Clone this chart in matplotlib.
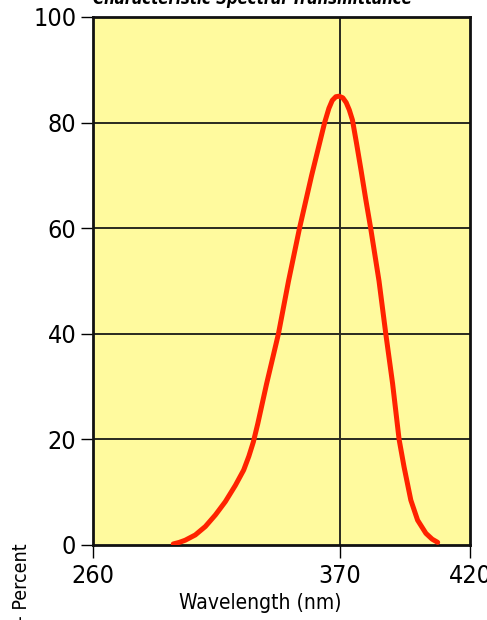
import numpy as np
import matplotlib.pyplot as plt

# =========================
# data

wavelength = [295.8, 298.5, 301.1, 305.6, 310.1, 314.6, 319.0, 323.5, 327.2, 329.5,
              331.5, 333.5, 337.4, 342.7, 347.2, 352.1, 357.5, 363.3, 365.2, 366.7,
              368.3, 369.7, 371.2, 372.5, 373.7, 374.9, 376.5, 378.2, 380.0, 381.9,
              385.1, 387.7, 390.3, 392.8, 394.7, 397.3, 399.9, 403.1, 405.5, 407.6]
transmit = [0.2, 0.5, 0.9, 1.9, 3.5, 5.7, 8.2, 11.3, 14.2, 16.8,
            19.5, 23.0, 30.5, 40, 50, 60, 70, 80, 82.7, 84.2,
            84.9, 85, 84.7, 83.8, 82.4, 80.5, 76, 71, 65.5, 60,
            50, 40, 30.6, 20, 14.8, 8.5, 4.7, 2.2, 1.1, 0.5]

x_ticks = [260, 370, 420]
y_ticks = [0, 20, 40, 60, 80, 100]

# the printed axis is not linear: 260-370 is squeezed compared with 370-420
x_knots = [260, 370, 420]
x_pos = [0, 246, 376]

def fwd(x):
    return np.interp(x, x_knots, x_pos)

def inv(p):
    return np.interp(p, x_pos, x_knots)

plt.rcParams['font.family'] = ['DejaVu Sans']
plt.rcParams['font.stretch'] = 'condensed'

fig = plt.figure(figsize=(4.87, 6.2), dpi=100)
ax = fig.add_axes([93/487, 1-545/620, (470-93)/487, (545-17)/620])

ax.set_xscale('function', functions=(fwd, inv))
ax.set_facecolor('#fffa9e')
ax.set_xlim(260, 420)
ax.set_ylim(0, 100)

# grid: four horizontal lines, one vertical at 370
for yv in y_ticks[1:-1]:
    ax.axhline(yv, color='#2a2a20', lw=1.4, zorder=1)
ax.axvline(370, color='#2a2a20', lw=1.4, zorder=1)

ax.plot(wavelength, transmit, color='#ff2200', lw=3.6,
        solid_capstyle='round', solid_joinstyle='round', zorder=3)

ax.set_xticks(x_ticks)
ax.set_yticks(y_ticks)
ax.set_xticklabels([str(v) for v in x_ticks])
ax.xaxis.set_minor_locator(plt.NullLocator())
ax.tick_params(axis='both', direction='out', length=9, width=1.0, labelsize=18)
ax.tick_params(axis='y', pad=3)
ax.tick_params(axis='x', pad=5)

for s in ax.spines.values():
    s.set_linewidth(2)
    s.set_color('#111111')

fig.text(260/487, 1-593/620, 'Wavelength (nm)', ha='center', va='top', fontsize=15)
fig.text(22/487, 1-543/620, 'Transmittance - Percent', rotation=90,
         va='top', ha='center', fontsize=14)
fig.text(252/487, 1-(-1)/620, 'Characteristic Spectral Transmittance', fontsize=12,
         fontweight='bold', fontstyle='italic', ha='center', va='center')

fig.savefig('out.png', dpi=100)
